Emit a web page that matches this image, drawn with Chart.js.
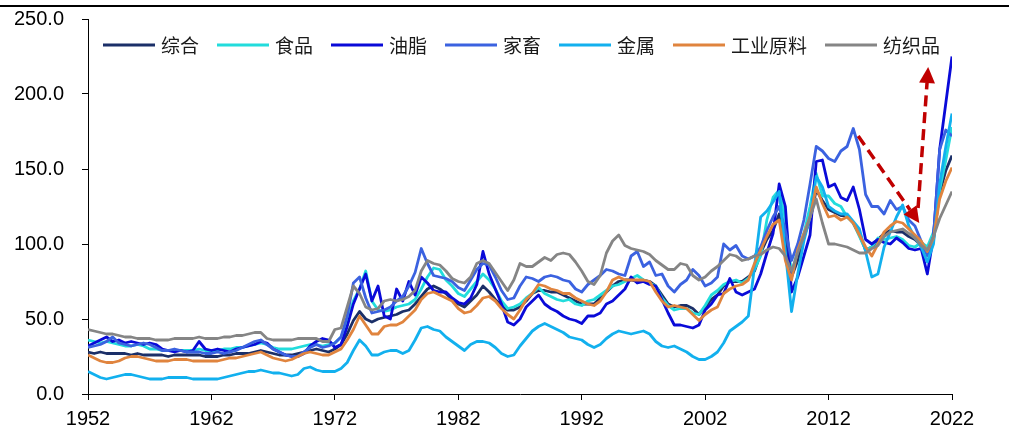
<!DOCTYPE html>
<html>
<head>
<meta charset="utf-8">
<script src="https://cdn.jsdelivr.net/npm/chart.js@4.4.0/dist/chart.umd.min.js"></script>
<style>
  html, body { margin: 0; padding: 0; background: #ffffff; }
  #wrap { width: 1009px; height: 430px; position: relative; }
</style>
</head>
<body>
<div id="wrap"><canvas id="chart" width="1009" height="430"></canvas></div>
<script>
// Half-year sample dates (decimal years)
const dates = [
  1952,1952.5,1953,1953.5,1954,1954.5,1955,1955.5,1956,1956.5,1957,1957.5,1958,1958.5,1959,1959.5,1960,1960.5,1961,1961.5,
  1962,1962.5,1963,1963.5,1964,1964.5,1965,1965.5,1966,1966.5,1967,1967.5,1968,1968.5,1969,1969.5,1970,1970.5,1971,1971.5,
  1972,1972.5,1973,1973.5,1974,1974.5,1975,1975.5,1976,1976.5,1977,1977.5,1978,1978.5,1979,1979.5,1980,1980.5,1981,1981.5,
  1982,1982.5,1983,1983.5,1984,1984.5,1985,1985.5,1986,1986.5,1987,1987.5,1988,1988.5,1989,1989.5,1990,1990.5,1991,1991.5,
  1992,1992.5,1993,1993.5,1994,1994.5,1995,1995.5,1996,1996.5,1997,1997.5,1998,1998.5,1999,1999.5,2000,2000.5,2001,2001.5,
  2002,2002.5,2003,2003.5,2004,2004.5,2005,2005.5,2006,2006.5,2007,2007.5,2008,2008.5,2009,2009.5,2010,2010.5,2011,2011.5,
  2012,2012.5,2013,2013.5,2014,2014.5,2015,2015.5,2016,2016.5,2017,2017.5,2018,2018.5,2019,2019.5,2020,2020.5,2021,2021.5,
  2022
];

// 综合
const composite = [
  28,27,28,27,27,27,27,26,27,26,26,26,26,25,26,26,26,26,26,25,
  25,25,26,26,27,27,27,28,29,28,27,26,26,26,27,28,29,30,29,28,
  30,33,40,49,55,50,48,50,51,52,53,55,56,60,65,70,72,70,67,63,
  60,58,62,66,72,68,63,59,56,56,58,62,67,69,69,68,68,66,64,62,
  60,60,60,64,68,72,75,76,76,75,76,75,72,66,60,58,59,59,57,53,
  58,63,66,72,75,75,75,78,82,94,103,109,120,103,78,89,105,116,136,129,
  123,121,119,119,114,106,96,98,103,107,109,108,108,105,103,99,94,103,134,149,
  159
];
// 食品
const food = [
  36,35,34,35,34,33,32,32,33,32,30,30,29,29,29,29,29,29,30,29,
  29,29,30,30,31,31,32,33,34,33,31,30,30,30,31,32,33,33,32,33,
  34,38,48,62,70,82,62,56,55,56,58,59,60,63,70,78,84,83,76,72,
  67,65,70,75,80,76,70,62,57,58,60,64,67,71,67,65,63,62,63,60,
  59,62,63,66,69,72,73,75,77,79,76,74,72,64,59,56,57,57,54,53,
  59,66,69,73,75,76,74,77,83,92,116,131,136,116,80,96,107,125,147,132,
  132,127,125,118,114,105,96,98,104,103,104,105,103,99,98,101,98,108,136,156,
  178
];
// 油脂
const oils = [
  32,34,36,38,35,36,34,35,34,33,34,33,30,29,28,29,28,29,35,30,
  29,30,29,28,30,31,32,33,35,34,30,28,26,25,25,27,32,35,37,36,
  31,33,45,60,70,80,62,72,52,50,70,62,75,66,78,74,69,68,68,64,
  61,60,64,73,95,80,70,60,48,46,50,58,62,66,60,57,55,52,50,49,
  47,52,52,54,60,62,66,70,78,74,75,73,72,63,54,46,46,45,44,46,
  56,60,66,67,77,68,66,68,70,80,94,107,140,125,68,78,92,106,155,156,
  138,140,131,129,138,123,103,100,103,101,100,104,101,97,96,97,80,105,163,194,
  225
];
// 家畜
const livestock = [
  31,32,33,35,38,34,33,32,33,34,33,31,29,29,30,29,28,28,28,27,
  27,28,27,28,29,31,33,35,36,33,30,28,26,25,25,28,31,33,31,32,
  34,38,52,74,78,64,54,55,56,58,62,65,72,81,97,87,79,78,77,75,
  71,69,76,83,87,86,78,69,63,64,72,78,77,75,78,79,78,76,75,70,
  68,73,76,79,83,82,80,79,92,95,85,88,79,80,72,68,73,76,83,79,
  72,74,78,100,96,99,92,90,92,98,109,118,125,109,89,100,116,140,165,162,
  157,155,162,165,177,163,133,125,125,120,129,123,125,116,112,102,92,105,163,176,
  172
];
// 金属
const metals = [
  15,13,11,10,11,12,13,13,12,11,10,10,10,11,11,11,11,10,10,10,
  10,10,11,12,13,14,15,15,16,15,14,14,13,12,13,17,18,16,15,15,
  15,17,21,29,36,32,26,26,28,29,29,27,29,36,44,45,43,42,38,35,
  32,29,33,35,35,34,31,27,25,26,32,37,42,45,47,45,43,41,38,37,
  36,33,31,33,37,40,42,41,40,41,42,40,35,32,31,32,30,28,25,23,
  23,25,28,34,42,45,48,52,85,118,122,128,135,95,55,80,102,118,145,138,
  125,122,120,120,115,110,95,78,80,98,108,118,126,112,104,98,88,100,140,165,
  187
];
// 工业原料
const industrial = [
  26,24,22,21,21,22,24,25,25,24,23,22,22,22,23,23,23,22,22,22,
  22,22,23,24,24,25,26,27,28,26,24,23,22,23,25,27,28,27,26,26,
  28,30,36,43,52,46,40,40,45,46,46,48,52,56,63,67,68,66,64,62,
  57,54,55,59,64,65,62,57,53,50,56,63,67,73,72,70,69,67,67,64,
  62,60,59,62,68,76,78,76,76,76,76,75,68,62,58,59,58,57,53,49,
  53,56,58,67,70,72,73,76,87,96,105,113,116,89,76,96,107,118,138,127,
  118,119,116,118,114,106,98,92,100,108,112,115,114,110,106,102,95,104,130,142,
  151
];
// 纺织品
const textiles = [
  43,42,41,40,40,39,38,38,37,37,37,36,36,36,37,37,37,37,38,37,
  37,37,38,38,39,39,40,41,41,37,36,36,36,36,37,37,37,37,35,35,
  43,44,58,72,67,58,56,57,62,63,62,63,65,69,82,89,87,86,82,77,
  75,74,78,87,89,87,81,75,69,76,87,85,85,88,91,89,93,94,93,88,
  82,75,73,79,94,102,106,99,97,96,95,93,89,86,83,83,87,86,79,76,
  78,82,85,89,93,92,89,90,92,93,96,98,97,92,82,94,105,118,130,114,
  100,100,99,98,96,94,94,97,99,105,108,109,110,107,104,99,96,105,117,126,
  135
];

const seriesNames  = ['综合', '食品', '油脂', '家畜', '金属', '工业原料', '纺织品'];
const seriesValues = [composite, food, oils, livestock, metals, industrial, textiles];
const seriesColors = ['#1b2f68', '#22dcdc', '#0a0ad8', '#3b62e0', '#12b0ee', '#e0843e', '#858585'];

const xTicks = [1952, 1962, 1972, 1982, 1992, 2002, 2012, 2022];
const yTicks = [0, 50, 100, 150, 200, 250];

// Red dashed arrows, in data units [year, value]
const arrowDown = [[2014.4, 172], [2019.35, 114]];
const arrowUp   = [[2019.25, 124], [2020.07, 218]];

const tickFont = { family: '"Liberation Sans", Arial, sans-serif', size: 20 };

const datasets = seriesNames.map((name, i) => ({
  label: name,
  data: dates.map((d, j) => ({ x: d, y: seriesValues[i][j] })),
  borderColor: seriesColors[i],
  backgroundColor: seriesColors[i],
  borderWidth: 2.8,
  pointRadius: 0,
  tension: 0,
  borderJoinStyle: 'round',
  order: seriesNames.length - i
}));

// Thin rule across the top of the page
const topRule = {
  id: 'topRule',
  afterDraw(chart) {
    const ctx = chart.ctx;
    ctx.save();
    ctx.fillStyle = '#000';
    ctx.fillRect(0, 5, chart.width, 2);
    ctx.restore();
  }
};

// Series key drawn along the top of the plot
const seriesKey = {
  id: 'seriesKey',
  afterDraw(chart) {
    const ctx = chart.ctx;
    ctx.save();
    ctx.font = '19px "Noto Sans CJK SC", sans-serif';
    ctx.textBaseline = 'middle';
    let x = 103;
    const y = 45;
    chart.data.datasets.forEach(ds => {
      ctx.strokeStyle = ds.borderColor;
      ctx.lineWidth = 3;
      ctx.beginPath();
      ctx.moveTo(x, y);
      ctx.lineTo(x + 52, y);
      ctx.stroke();
      x += 58;
      ctx.fillStyle = '#1a1a1a';
      ctx.fillText(ds.label, x, y + 1);
      x += ctx.measureText(ds.label).width + 18;
    });
    ctx.restore();
  }
};

function drawArrow(ctx, x1, y1, x2, y2) {
  const ang = Math.atan2(y2 - y1, x2 - x1);
  const headLen = 16, headHalf = 8;
  const bx = x2 - headLen * Math.cos(ang);
  const by = y2 - headLen * Math.sin(ang);
  ctx.setLineDash([11, 6]);
  ctx.lineWidth = 3.5;
  ctx.beginPath();
  ctx.moveTo(x1, y1);
  ctx.lineTo(bx, by);
  ctx.stroke();
  ctx.setLineDash([]);
  ctx.beginPath();
  ctx.moveTo(x2, y2);
  ctx.lineTo(bx + headHalf * Math.sin(ang), by - headHalf * Math.cos(ang));
  ctx.lineTo(bx - headHalf * Math.sin(ang), by + headHalf * Math.cos(ang));
  ctx.closePath();
  ctx.fill();
}

const trendArrows = {
  id: 'trendArrows',
  afterDatasetsDraw(chart) {
    const { ctx, scales: { x, y } } = chart;
    ctx.save();
    ctx.strokeStyle = '#c00000';
    ctx.fillStyle = '#c00000';
    [arrowDown, arrowUp].forEach(a => {
      drawArrow(ctx,
        x.getPixelForValue(a[0][0]), y.getPixelForValue(a[0][1]),
        x.getPixelForValue(a[1][0]), y.getPixelForValue(a[1][1]));
    });
    ctx.restore();
  }
};

new Chart(document.getElementById('chart'), {
  type: 'line',
  data: { datasets },
  options: {
    responsive: false,
    animation: false,
    layout: { padding: { top: 19, right: 57, bottom: 0, left: 0 } },
    plugins: { legend: { display: false }, tooltip: { enabled: false } },
    scales: {
      x: {
        type: 'linear',
        min: 1952,
        max: 2022,
        afterFit: s => { s.height = 36; s.paddingLeft = 0; s.paddingRight = 0; },
        afterBuildTicks: s => { s.ticks = xTicks.map(v => ({ value: v })); },
        grid: { display: true, drawOnChartArea: false, drawTicks: true, tickLength: 6, color: '#000', tickColor: '#000' },
        border: { display: true, color: '#000', width: 1 },
        ticks: { font: tickFont, color: '#000', padding: 7, maxRotation: 0, autoSkip: false, callback: v => String(v) }
      },
      y: {
        min: 0,
        max: 250,
        afterFit: s => { s.width = 88; s.paddingTop = 0; s.paddingBottom = 0; },
        afterBuildTicks: s => { s.ticks = yTicks.map(v => ({ value: v })); },
        grid: { display: true, drawOnChartArea: false, drawTicks: true, tickLength: 6, color: '#000', tickColor: '#000' },
        border: { display: true, color: '#000', width: 1 },
        ticks: { font: tickFont, color: '#000', padding: 18, callback: v => Number(v).toFixed(1) }
      }
    }
  },
  plugins: [topRule, seriesKey, trendArrows]
});
</script>
</body>
</html>
